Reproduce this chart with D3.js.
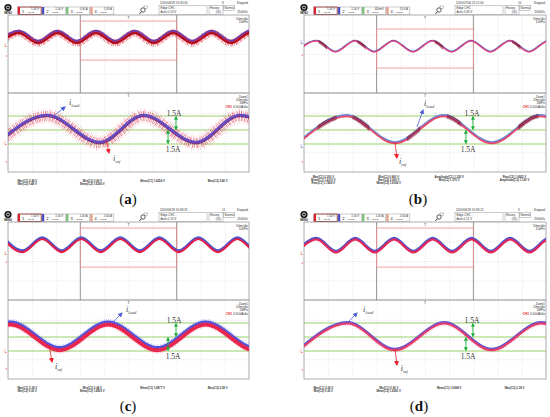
<!DOCTYPE html>
<html>
<head>
<meta charset="utf-8">
<script src="https://cdn.jsdelivr.net/npm/d3@7"></script>
<style>
  html, body { margin: 0; padding: 0; background: #fff; }
  svg { display: block; }
</style>
</head>
<body>
<div id="chart"></div>
<script>
const W = 550, H = 417;

// ---- header text of each scope shot
const panelLabels = ["a", "b", "c", "d"];
const timestamps = ["2020/06/29 19:30:03", "2020/07/06 22:11:04", "2020/06/29 19:38:35", "2020/06/29 19:39:12"];
const acqCounts = ["8", "10", "11", "9"];
const channelNames = ["1", "2", "3", "4"];
const channelScales = [
  ["1.00 V", "1.00 V", "5.00 A", "5.00 A"],
  ["1.00 V", "1.00 V", "400mV", "10.0 A"],
  ["1.00 V", "1.00 V", "5.00 A", "5.00 A"],
  ["1.00 V", "1.00 V", "5.00 A", "5.00 A"]
];
const trigLevels = ["Auto 0.19 V", "Auto 2.08 V", "Auto 0.19 V", "Auto 0.11 V"];
const mainInfo = ["50ms/div", "10kPts"];
const zoomInfo = ["Zoom1", "20ms/div", "1MPts"];
const zoomScale = "0.500A/div";

// ---- main window trace (x in divisions 0..10, y in divisions -4..4)
const mainPeaks = [
  [0.45, 2.05, 3.65, 5.25, 6.85, 8.45, 10.05],
  [0.5, 2.1, 3.7, 5.3, 6.9, 8.5, 10.1],
  [-0.2, 1.42, 3.04, 4.66, 6.28, 7.9, 9.52, 11.14],
  [0.52, 2.12, 3.72, 5.32, 6.92, 8.52, 10.12]
];
const mainTroughs = [
  [-0.35, 1.25, 2.85, 4.45, 6.05, 7.65, 9.25, 10.85],
  [-0.3, 1.3, 2.9, 4.5, 6.1, 7.7, 9.3, 10.9],
  [0.61, 2.23, 3.85, 5.47, 7.09, 8.71, 10.33],
  [-0.28, 1.32, 2.92, 4.52, 6.12, 7.72, 9.32, 10.92]
];
const mainPeakLevel = [2.15, 1.33, 2.3, 2.26];
const mainTroughLevel = [1.13, 0.2, 0.95, 0.92];
const zoomWindowDiv = [3, 7];
const zoomWindowLevel = [[3.38, -0.62], [2.56, -1.44], [3.38, -0.62], [3.38, -0.62]];

// ---- zoom window trace (x in divisions 0..10, y in A)
const zoomPeaks = [
  [1.62, 5.62, 9.62],
  [1.76, 5.76, 9.76],
  [0.1, 4.15, 8.2, 12.25],
  [1.8, 5.8, 9.8]
];
const zoomTroughs = [
  [-0.4, 3.8, 7.8, 11.6],
  [-0.24, 3.76, 7.76, 11.76],
  [-1.92, 2.14, 6.2, 10.25],
  [-0.2, 3.75, 7.75, 11.8]
];
const zoomPeakAmp = [1.5, 1.5, 1.45, 1.5];
const zoomTroughAmp = [-1.4, -1.4, -1.3, -1.35];
const greenLevels = [1.5, 0, -1.5];
const stepLabel = "1.5A";

// dark bursts on panel (b), ranges in divisions
const burstMain = [[0.6, 0.95], [2.2, 2.55], [5.4, 5.75], [8.6, 8.95]];
const burstZoom = [[0.55, 1.35], [2.0, 2.7], [4.25, 4.8], [5.9, 6.5], [8.85, 9.7]];

// ---- annotations (div, A)
const iLoadArrow = [[1.95, 1.61, 2.37, 2.47], [4.67, 0.32, 4.92, 2.14], [4.32, 1.5, 4.73, 2.57], [1.78, 1.5, 2.19, 2.57]];
const iLoadLabel = [[2.53, 2.73], [4.96, 2.52], [4.9, 2.63], [2.44, 2.73]];
const iRefArrow = [[4.07, -1.07, 4.19, -2.46], [3.76, -1.29, 3.84, -3.0], [1.7, -0.86, 1.83, -2.68], [3.76, -1.18, 3.84, -3.0]];
const iRefLabel = [[4.36, -3.27], [3.93, -3.59], [1.95, -3.48], [4.0, -3.59]];
const stepArrowX = [[6.97, 6.64], [6.98, 6.69], [6.97, 6.64], [6.98, 6.69]];
const stepTextX = [[6.89, 6.85], [6.94, 6.78], [6.89, 6.85], [6.94, 6.78]];
const stepTextA = [1.55, -2.4];

// ---- level markers on left edge
const mainMarks = [[0.92, -0.2], [1.23, -0.1], [0.82, -0.1], [0.82, -0.2]];
const zoomMarks = [[-1.4, -3.4], [-1.8, -3.4], [-1.6, -3.4], [-1.6, -3.5]];

// ---- measurement readouts
const measurements = [
  [["Max(C1)  2.46 V", "Min(C2)  0.48 V"], ["Min(C1)  0.40 V", "Mean(C2)  1.6266 V"], ["Mean(C1)  1.6256 V"], ["Max(C2)  2.46 V"]],
  [["Max(C1)  2.200 V", "Mean(C1)  1.6310 V", "Rms(C1)  1.7406 V"], ["Min(C1)  0.960 V", "Max(C2)  2.260 V", "Mean(C2)  1.6006 V"], ["Amplitude(C1)  1.202 V", "Min(C2)  1.375 V"], ["Rms(C2)  1.6922 V", "Amplitude(C2)  1.120 V"]],
  [["Max(C1)  2.36 V", "Min(C2)  0.36 V"], ["Min(C1)  0.44 V", "Mean(C2)  1.6805 V"], ["Mean(C1)  1.6877 V"], ["Max(C2)  2.38 V"]],
  [["Max(C1)  2.36 V", "Min(C2)  0.36 V"], ["Min(C1)  0.36 V", "Mean(C2)  1.6561 V"], ["Mean(C1)  1.6968 V"], ["Max(C2)  2.36 V"]]
];

// ---- layout
const layout = [
  { x0: 8, x1: 249, top: 15, labelX: 128 },
  { x0: 304, x1: 546, top: 15, labelX: 418 },
  { x0: 8, x1: 249, top: 222, labelX: 128 },
  { x0: 304, x1: 546, top: 222, labelX: 419 }
];
const measX = [0.08, 0.35, 0.6, 0.87];
const chColors = ["#e02030", "#3a44c0", "#6cc070", "#f09a8a"];

const mainLayers = [
  [{ c: "#4848d8", w: 4, dy: -1.3 }, { c: "#e02838", w: 7, dash: "0.6 0.9 0.4 1.3 0.7 0.6", op: 0.8 }, { c: "#d01828", w: 2.6 }, { c: "#6a0010", w: 1, dash: "0.8 0.6" }],
  [{ c: "#4a5ac8", w: 1.6, dy: -0.6 }, { c: "#e8487a", w: 1.5 }, { c: "#6a0a28", w: 3.2, dash: "0.6 0.5", burst: true }],
  [{ c: "#4a55d0", w: 2.8, dy: -1 }, { c: "#e0204a", w: 2.2, dy: 0.4 }],
  [{ c: "#4a55d0", w: 2.6, dy: -0.9 }, { c: "#e0285a", w: 2.2, dy: 0.4 }]
];
const zoomLayers = [
  [{ c: "#f08a96", w: 15, dash: "0.4 2.1 0.6 1.2 0.3 2.6 0.5 1.6", op: 0.55 }, { c: "#5252da", w: 3.4, dy: -0.6 },
   { c: "#d82040", w: 10, dash: "0.5 1.4 0.7 0.9 0.4 2 0.6 1.1", op: 0.7 }, { c: "#9a1a2a", w: 3, dash: "0.7 0.9 0.5 1.4", op: 0.85 },
   { c: "#5a5ae0", w: 1.6, op: 0.7, dy: -1 }],
  [{ c: "#6a8ad8", w: 2.2, dy: -0.8 }, { c: "#e84868", w: 1.8, dy: 0.4 }, { c: "#701030", w: 4.5, dash: "0.6 0.6", burst: true }],
  [{ c: "#4c4cd8", w: 4.5, dy: -0.8 }, { c: "#6a6ae8", w: 6.5, dash: "0.5 1.2", op: 0.6, dy: -1.2 },
   { c: "#e8204a", w: 3.6, dy: 1.2 }, { c: "#f04868", w: 5.5, dash: "0.5 1.3", op: 0.6, dy: 1.6 }],
  [{ c: "#5656d4", w: 2.6, dy: -0.6 }, { c: "#f05a88", w: 4.5, dash: "0.5 1.3", op: 0.55, dy: 0.6 }, { c: "#e83a6a", w: 2, dy: 0.6 }]
];

const svg = d3.select("#chart").append("svg").attr("width", W).attr("height", H)
  .style("font-family", "'Liberation Sans', Arial, sans-serif");
const defs = svg.append("defs");

function arrowMarker(id, color, size) {
  defs.append("marker")
    .attr("id", id)
    .attr("viewBox", "0 0 10 10")
    .attr("refX", 8).attr("refY", 5)
    .attr("markerUnits", "userSpaceOnUse")
    .attr("markerWidth", size).attr("markerHeight", size)
    .attr("orient", "auto-start-reverse")
    .append("path").attr("d", "M0,0L10,5L0,10z").attr("fill", color);
}
arrowMarker("arGreen", "#1aae3c", 4);
arrowMarker("arBlue", "#4e5ed6", 5);
arrowMarker("arRed", "#ee1c2c", 5);

function keyPoints(peaks, troughs, hi, lo) {
  return peaks.map(v => [v, hi]).concat(troughs.map(v => [v, lo])).sort((a, b) => a[0] - b[0]);
}

function drawLayers(g, layers, pts, line, clipId, burstRanges, x, yTop, yBot) {
  // burst clip
  const bId = clipId + "b";
  const bc = defs.append("clipPath").attr("id", bId);
  burstRanges.forEach(r => {
    bc.append("rect").attr("x", x(r[0])).attr("y", yTop).attr("width", x(r[1]) - x(r[0])).attr("height", yBot - yTop);
  });
  layers.forEach(l => {
    const p = g.append("path")
      .attr("d", line(pts))
      .attr("fill", "none")
      .attr("stroke", l.c)
      .attr("stroke-width", l.w)
      .attr("stroke-opacity", l.op || 1)
      .attr("transform", `translate(0,${l.dy || 0})`);
    if (l.dash) p.attr("stroke-dasharray", l.dash);
    if (l.burst) p.attr("clip-path", `url(#${bId})`);
  });
}

layout.forEach((p, i) => {
  const T = p.top;
  const g = svg.append("g");
  const x = d3.scaleLinear().domain([0, 10]).range([p.x0, p.x1]);
  const yU = d3.scaleLinear().domain([-4, 4]).range([T + 78, T]);
  const yLdiv = d3.scaleLinear().domain([-4, 4]).range([T + 157, T + 78]);
  const yL = d3.scaleLinear().domain([-1.5, 1.5]).range([T + 129, T + 101]);
  const w = p.x1 - p.x0;

  // ---- header bar
  g.append("circle").attr("cx", p.x0).attr("cy", T - 7.5).attr("r", 3.6).attr("fill", "#111");
  g.append("circle").attr("cx", p.x0).attr("cy", T - 7.5).attr("r", 1.6).attr("fill", "none").attr("stroke", "#fff").attr("stroke-width", 0.8);
  g.append("text").attr("x", p.x0).attr("y", T - 1.2).attr("text-anchor", "middle")
    .attr("font-size", 2.6).attr("font-weight", "bold").attr("fill", "#222").text("MENU");

  const boxW = 24.2;
  channelNames.forEach((ch, k) => {
    const bx = p.x0 + 10 + k * boxW;
    g.append("rect").attr("x", bx).attr("y", T - 8).attr("width", boxW - 1).attr("height", 7.5)
      .attr("fill", "#fff").attr("stroke", k === 0 ? "#7a1010" : "#999").attr("stroke-width", k === 0 ? 0.8 : 0.5);
    g.append("rect").attr("x", bx).attr("y", T - 8).attr("width", 2).attr("height", 7.5).attr("fill", chColors[k]);
    g.append("text").attr("x", bx + 4).attr("y", T - 2.4).attr("font-size", 4).attr("fill", "#222").text(ch);
    g.append("text").attr("x", bx + boxW - 3).attr("y", T - 5).attr("text-anchor", "end")
      .attr("font-size", 2.8).attr("fill", "#333").text(channelScales[i][k]);
    g.append("text").attr("x", bx + 10).attr("y", T - 1.6).attr("font-size", 2.4).attr("fill", "#333").text("2/3   Ω");
  });

  // magnifier icon
  g.append("circle").attr("cx", p.x0 + 135).attr("cy", T - 5).attr("r", 2.2).attr("fill", "none").attr("stroke", "#333").attr("stroke-width", 0.8);
  g.append("line").attr("x1", p.x0 + 133.5).attr("y1", T - 3.4).attr("x2", p.x0 + 131.5).attr("y2", T - 1.2).attr("stroke", "#333").attr("stroke-width", 1);
  g.append("rect").attr("x", p.x0 + 136).attr("y", T - 9).attr("width", 3.5).attr("height", 2.5).attr("fill", "none").attr("stroke", "#666").attr("stroke-width", 0.4);

  // info area
  g.append("text").attr("x", p.x0 + 152).attr("y", T - 11).attr("font-size", 3).attr("fill", "#333").text(timestamps[i]);
  g.append("text").attr("x", p.x0 + 214).attr("y", T - 11).attr("font-size", 3).attr("fill", "#333").text(acqCounts[i]);
  g.append("text").attr("x", p.x1 - 1).attr("y", T - 11).attr("text-anchor", "end").attr("font-size", 3).attr("fill", "#333").text("Stopped");
  g.append("rect").attr("x", p.x0 + 151).attr("y", T - 9.5).attr("width", 48).attr("height", 9).attr("fill", "none").attr("stroke", "#999").attr("stroke-width", 0.5);
  g.append("text").attr("x", p.x0 + 152.5).attr("y", T - 6).attr("font-size", 3).attr("fill", "#333").text("Edge CH1 ↑");
  g.append("text").attr("x", p.x0 + 152.5).attr("y", T - 1.7).attr("font-size", 3).attr("fill", "#333").text(trigLevels[i]);
  g.append("rect").attr("x", p.x0 + 201).attr("y", T - 9.5).attr("width", 14).attr("height", 9).attr("fill", "none").attr("stroke", "#999").attr("stroke-width", 0.5);
  g.append("text").attr("x", p.x0 + 202).attr("y", T - 6).attr("font-size", 3).attr("fill", "#333").text("History");
  g.append("text").attr("x", p.x0 + 213).attr("y", T - 1.7).attr("text-anchor", "end").attr("font-size", 3).attr("fill", "#333").text("(50)");
  g.append("rect").attr("x", p.x0 + 215.5).attr("y", T - 9.5).attr("width", 11).attr("height", 5).attr("fill", "none").attr("stroke", "#999").attr("stroke-width", 0.5);
  g.append("text").attr("x", p.x0 + 216.5).attr("y", T - 6).attr("font-size", 3).attr("fill", "#333").text("Normal");
  g.append("text").attr("x", p.x1 - 1).attr("y", T - 1.7).attr("text-anchor", "end").attr("font-size", 3).attr("fill", "#333").text("250kS/s");

  // ---- screens
  g.append("rect").attr("x", p.x0).attr("y", T).attr("width", w).attr("height", 157)
    .attr("fill", "#fff").attr("stroke", "#9a9a9a").attr("stroke-width", 0.8);

  const gridStyle = sel => sel.call(s => s.select(".domain").remove())
    .selectAll(".tick line").attr("stroke", "#c8c8c8").attr("stroke-width", 0.5).attr("stroke-dasharray", "1 1.5");
  g.append("g").attr("transform", `translate(0,${T + 157})`)
    .call(d3.axisBottom(x).ticks(10).tickSize(-157).tickFormat(""))
    .call(gridStyle);
  g.append("g").attr("transform", `translate(${p.x0},0)`)
    .call(d3.axisLeft(yU).tickValues([-2, 0, 2]).tickSize(-w).tickFormat(""))
    .call(gridStyle);
  g.append("g").attr("transform", `translate(${p.x0},0)`)
    .call(d3.axisLeft(yLdiv).tickValues([-2, 0, 2]).tickSize(-w).tickFormat(""))
    .call(gridStyle);

  // divider between main and zoom screens
  g.append("line").attr("x1", p.x0).attr("x2", p.x1).attr("y1", T + 78).attr("y2", T + 78)
    .attr("stroke", "#8a8a8a").attr("stroke-width", 1);

  // zoom window bounds in main screen
  zoomWindowDiv.forEach(d => {
    g.append("line").attr("x1", x(d)).attr("x2", x(d)).attr("y1", T).attr("y2", T + 78)
      .attr("stroke", "#8a8a8a").attr("stroke-width", 0.9);
  });
  g.append("rect")
    .attr("x", x(zoomWindowDiv[0])).attr("y", yU(zoomWindowLevel[i][0]))
    .attr("width", x(zoomWindowDiv[1]) - x(zoomWindowDiv[0]))
    .attr("height", yU(zoomWindowLevel[i][1]) - yU(zoomWindowLevel[i][0]))
    .attr("fill", "none").attr("stroke", "#f08a8a").attr("stroke-width", 0.8);

  // green reference lines in zoom screen
  greenLevels.forEach(v => {
    g.append("line").attr("x1", p.x0).attr("x2", p.x1).attr("y1", yL(v)).attr("y2", yL(v))
      .attr("stroke", "#8ccc5a").attr("stroke-width", 0.9);
  });

  // trigger marks
  [T + 4, T + 82].forEach(ty => {
    g.append("text").attr("x", x(5)).attr("y", ty).attr("text-anchor", "middle")
      .attr("font-size", 4).attr("fill", "#555").text("T");
  });

  // screen texts
  mainInfo.forEach((t, k) => {
    g.append("text").attr("x", p.x1 - 1).attr("y", T + 4.5 + k * 3.6).attr("text-anchor", "end")
      .attr("font-size", 3).attr("fill", "#333").text(t);
  });
  zoomInfo.forEach((t, k) => {
    g.append("text").attr("x", p.x1 - 1).attr("y", T + 82.5 + k * 3.3).attr("text-anchor", "end")
      .attr("font-size", 3).attr("fill", "#333").text(t);
  });
  const zs = g.append("text").attr("x", p.x1 - 1).attr("y", T + 92.5).attr("text-anchor", "end")
    .attr("font-size", 3.2).attr("fill", "#333");
  zs.append("tspan").attr("fill", "#e02030").attr("font-weight", "bold").text("CH1 ");
  zs.append("tspan").text(zoomScale);

  // ---- traces
  const cu = "clipU" + i, cl = "clipL" + i;
  defs.append("clipPath").attr("id", cu).append("rect").attr("x", p.x0).attr("y", T).attr("width", w).attr("height", 78);
  defs.append("clipPath").attr("id", cl).append("rect").attr("x", p.x0).attr("y", T + 78.5).attr("width", w).attr("height", 78.5);

  const lineU = d3.line().x(d => x(d[0])).y(d => yU(d[1])).curve(d3.curveMonotoneX);
  const lineL = d3.line().x(d => x(d[0])).y(d => yL(d[1])).curve(d3.curveMonotoneX);

  const gu = g.append("g").attr("clip-path", `url(#${cu})`);
  drawLayers(gu, mainLayers[i], keyPoints(mainPeaks[i], mainTroughs[i], mainPeakLevel[i], mainTroughLevel[i]),
    lineU, "bu" + i, i === 1 ? burstMain : [], x, T, T + 78);
  const gl = g.append("g").attr("clip-path", `url(#${cl})`);
  drawLayers(gl, zoomLayers[i], keyPoints(zoomPeaks[i], zoomTroughs[i], zoomPeakAmp[i], zoomTroughAmp[i]),
    lineL, "bl" + i, i === 1 ? burstZoom : [], x, T + 78, T + 157);

  // level markers on left edge
  const markColor = i === 1 ? "#4a5ac8" : "#e05030";
  [[mainMarks[i], yU], [zoomMarks[i], yL]].forEach(([m, ys]) => {
    g.append("text").attr("x", p.x0 - 1).attr("y", ys(m[0]) + 1.5).attr("text-anchor", "end")
      .attr("font-size", 4.5).attr("fill", markColor).text("L");
    g.append("text").attr("x", p.x0 - 1).attr("y", ys(m[1]) + 1.2).attr("text-anchor", "end")
      .attr("font-size", 3.5).attr("fill", "#f08aa0").text("◂");
  });

  // ---- annotations
  const a1 = iLoadArrow[i];
  g.append("line").attr("x1", x(a1[0])).attr("y1", yL(a1[1])).attr("x2", x(a1[2])).attr("y2", yL(a1[3]))
    .attr("stroke", "#4e5ed6").attr("stroke-width", 0.8).attr("marker-end", "url(#arBlue)");
  const t1 = g.append("text").attr("x", x(iLoadLabel[i][0])).attr("y", yL(iLoadLabel[i][1]))
    .attr("font-family", "'Liberation Serif', serif").attr("font-style", "italic").attr("font-size", 8).attr("fill", "#333");
  t1.append("tspan").text("i");
  t1.append("tspan").attr("font-size", 4.5).attr("dy", 2).text("load");

  const a2 = iRefArrow[i];
  g.append("line").attr("x1", x(a2[0])).attr("y1", yL(a2[1])).attr("x2", x(a2[2])).attr("y2", yL(a2[3]))
    .attr("stroke", "#ee1c2c").attr("stroke-width", 0.8).attr("marker-end", "url(#arRed)");
  const t2 = g.append("text").attr("x", x(iRefLabel[i][0])).attr("y", yL(iRefLabel[i][1]))
    .attr("font-family", "'Liberation Serif', serif").attr("font-style", "italic").attr("font-size", 8).attr("fill", "#333");
  t2.append("tspan").text("i");
  t2.append("tspan").attr("font-size", 4.5).attr("dy", 2).text("ref");

  // 1.5A step arrows
  [[greenLevels[0], greenLevels[1]], [greenLevels[1], greenLevels[2]]].forEach((lv, k) => {
    g.append("line").attr("x1", x(stepArrowX[i][k])).attr("x2", x(stepArrowX[i][k]))
      .attr("y1", yL(lv[0]) + 0.6).attr("y2", yL(lv[1]) - 0.6)
      .attr("stroke", "#1aae3c").attr("stroke-width", 0.9)
      .attr("marker-start", "url(#arGreen)").attr("marker-end", "url(#arGreen)");
    g.append("text").attr("x", x(stepTextX[i][k])).attr("y", yL(stepTextA[k])).attr("text-anchor", "middle")
      .attr("font-family", "'Liberation Serif', serif").attr("font-size", 7.5).attr("fill", "#333").text(stepLabel);
  });

  // ---- measurement readouts
  const m = measurements[i];
  const startY = m[0].length === 3 ? T + 163 : T + 167;
  m.forEach((grp, k) => {
    grp.forEach((line, j) => {
      g.append("text").attr("x", p.x0 + measX[k] * w).attr("y", startY + j * 3)
        .attr("text-anchor", "middle").attr("font-size", 2.8).attr("font-weight", "bold")
        .attr("fill", "#333").text(line);
    });
  });

  // ---- panel label
  const lab = g.append("text").attr("x", p.labelX).attr("y", T + 189).attr("text-anchor", "middle")
    .attr("font-family", "'Liberation Serif', serif").attr("font-size", 15).attr("fill", "#111");
  lab.append("tspan").text("(");
  lab.append("tspan").attr("font-weight", "bold").text(panelLabels[i]);
  lab.append("tspan").text(")");
});
</script>
</body>
</html>
